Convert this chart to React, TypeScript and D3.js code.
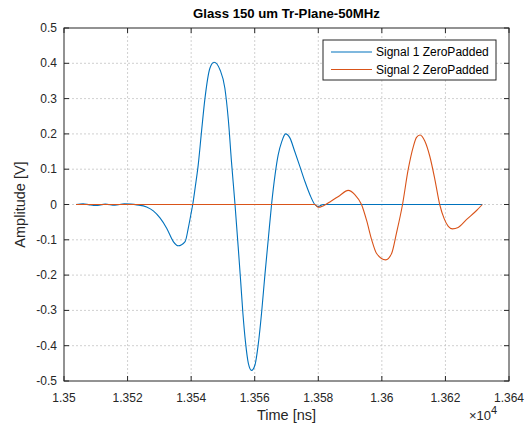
import * as d3 from "d3";

// time in ns, amplitude in V
const signal1Time = [
  13503.8, 13506, 13508, 13510, 13513, 13516, 13519, 13521, 13522.9, 13526.0, 13528.1, 13530.2,
  13532.3, 13534.4, 13535.9, 13538.1, 13539.1, 13539.9, 13540.5, 13541.3, 13542.2, 13543.3,
  13544.3, 13545.9, 13547.2, 13549.1, 13550.6, 13551.7, 13552.7, 13553.8, 13554.8, 13555.6,
  13556.3, 13557.1, 13558.0, 13559.0, 13560.1, 13561.1, 13562.2, 13563.2, 13564.3, 13565.3,
  13566.4, 13567.4, 13568.5, 13569.7, 13571.1, 13572.6, 13574.2, 13575.8, 13577.4, 13578.9,
  13580.0, 13581.5, 13600.0, 13631.6,
];
const signal1Value = [
  0, 0.002, -0.001, -0.003, 0.001, -0.002, 0.002, 0.001, -0.001, -0.007, -0.018, -0.038,
  -0.067, -0.105, -0.117, -0.105, -0.067, -0.029, 0, 0.05, 0.11, 0.21,
  0.297, 0.386, 0.403, 0.381, 0.33, 0.24, 0.12, 0, -0.12, -0.22,
  -0.31, -0.39, -0.45, -0.47, -0.454, -0.397, -0.303, -0.2, -0.095, 0,
  0.084, 0.141, 0.178, 0.2, 0.188, 0.15, 0.108, 0.065, 0.027, 0,
  -0.006, 0, 0, 0,
];

const signal2Time = [
  13503.8, 13550.0, 13578.9, 13580.0, 13581.5, 13584.1, 13586.7, 13589.4, 13591.5, 13593.6,
  13595.2, 13596.8, 13598.3, 13601.2, 13603.1, 13604.6, 13606.5, 13608.3, 13609.9, 13610.9,
  13612.0, 13613.5, 13615.1, 13616.7, 13618.2, 13619.6, 13620.9, 13622.2, 13624.0, 13626.6,
  13629.8, 13631.6,
];
const signal2Value = [
  0, 0, 0, -0.008, -0.004, 0.01, 0.025, 0.04, 0.028, 0,
  -0.045, -0.1, -0.138, -0.157, -0.138, -0.081, 0, 0.1, 0.164, 0.19,
  0.197, 0.18, 0.136, 0.07, 0, -0.04, -0.062, -0.069, -0.065, -0.043,
  -0.017, 0,
];

const xTicks = [13500, 13520, 13540, 13560, 13580, 13600, 13620, 13640];
const yTicks = [0.5, 0.4, 0.3, 0.2, 0.1, 0, -0.1, -0.2, -0.3, -0.4, -0.5];
const seriesNames = ["Signal 1 ZeroPadded", "Signal 2 ZeroPadded"];
const seriesColors = ["#0072BD", "#D95319"];

const W = 531;
const H = 425;
const margin = { top: 28, right: 22, bottom: 44, left: 64 };
const FONT = "'Liberation Sans', Arial, Helvetica, sans-serif";

export default function App() {
  const x = d3.scaleLinear().domain([13500, 13640]).range([margin.left, W - margin.right]);
  const y = d3.scaleLinear().domain([-0.5, 0.5]).range([H - margin.bottom, margin.top]);
  const x0 = margin.left;
  const x1 = W - margin.right;
  const y0 = H - margin.bottom;
  const y1 = margin.top;

  const line = d3
    .line<[number, number]>()
    .x((d) => x(d[0]))
    .y((d) => y(d[1]))
    .curve(d3.curveMonotoneX);

  const s1 = signal1Time.map((t, i) => [t, signal1Value[i]] as [number, number]);
  const s2 = signal2Time.map((t, i) => [t, signal2Value[i]] as [number, number]);
  const tickLen = 5;
  const fmtX = (v: number) => String(+(v / 10000).toFixed(3));

  return (
    <svg width={W} height={H} style={{ position: "absolute", left: 0, top: 0, background: "#fff" }} fontFamily={FONT}>
      {/* grid */}
      {xTicks.slice(1, -1).map((t) => (
        <line key={"gx" + t} x1={x(t)} x2={x(t)} y1={y1} y2={y0} stroke="#c4c4c4" strokeDasharray="2,2" strokeWidth={0.8} />
      ))}
      {yTicks.slice(1, -1).map((t) => (
        <line key={"gy" + t} x1={x0} x2={x1} y1={y(t)} y2={y(t)} stroke="#c4c4c4" strokeDasharray="2,2" strokeWidth={0.8} />
      ))}

      {/* series */}
      <path d={line(s1) || ""} fill="none" stroke={seriesColors[0]} strokeWidth={1.1} />
      <path d={line(s2) || ""} fill="none" stroke={seriesColors[1]} strokeWidth={1.1} />

      {/* box */}
      <rect x={x0} y={y1} width={x1 - x0} height={y0 - y1} fill="none" stroke="#262626" strokeWidth={1} />

      {/* ticks */}
      {xTicks.map((t) => (
        <g key={"tx" + t}>
          <line x1={x(t)} x2={x(t)} y1={y0} y2={y0 - tickLen} stroke="#262626" />
          <line x1={x(t)} x2={x(t)} y1={y1} y2={y1 + tickLen} stroke="#262626" />
          <text x={x(t)} y={y0 + 21} textAnchor="middle" fontSize={12} fill="#262626">
            {fmtX(t)}
          </text>
        </g>
      ))}
      {yTicks.map((t) => (
        <g key={"ty" + t}>
          <line x1={x0} x2={x0 + tickLen} y1={y(t)} y2={y(t)} stroke="#262626" />
          <line x1={x1} x2={x1 - tickLen} y1={y(t)} y2={y(t)} stroke="#262626" />
          <text x={x0 - 7} y={y(t) + 4} textAnchor="end" fontSize={12} fill="#262626">
            {String(t)}
          </text>
        </g>
      ))}

      {/* labels */}
      <text x={(x0 + x1) / 2} y={18} textAnchor="middle" fontSize={13.2} fontWeight="bold" fill="#000">
        Glass 150 um Tr-Plane-50MHz
      </text>
      <text x={(x0 + x1) / 2} y={420} textAnchor="middle" fontSize={14.5} fill="#262626">
        Time [ns]
      </text>
      <text x={469} y={420} fontSize={13} fill="#262626">
        {"\u00d710"}
        <tspan dy={-6} fontSize={11}>4</tspan>
      </text>
      <text transform={`translate(25,${(y0 + y1) / 2}) rotate(-90)`} textAnchor="middle" fontSize={14.5} fill="#262626">
        Amplitude [V]
      </text>

      {/* legend */}
      <rect x={323} y={40} width={173} height={40} fill="#fff" stroke="#262626" strokeWidth={1} />
      {seriesNames.map((n, i) => (
        <g key={n}>
          <line x1={331} x2={372} y1={52 + i * 17.5} y2={52 + i * 17.5} stroke={seriesColors[i]} strokeWidth={1.1} />
          <text x={376} y={56 + i * 17.5} fontSize={12} fill="#000">
            {n}
          </text>
        </g>
      ))}
    </svg>
  );
}
